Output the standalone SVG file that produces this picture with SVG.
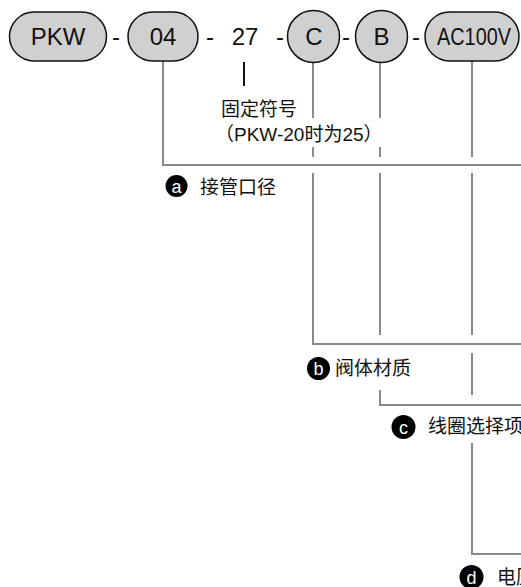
<svg xmlns="http://www.w3.org/2000/svg" width="521" height="587" viewBox="0 0 521 587">
<style>
.pill{fill:#d0d0d0;stroke:#111;stroke-width:1.5}
.code{font-family:"Liberation Sans",Arial,sans-serif;font-size:24px;fill:#111;text-anchor:middle}
.dash{font-family:"Liberation Sans",Arial,sans-serif;font-size:24px;fill:#111;text-anchor:middle}
.cn{font-family:"Liberation Sans","Noto Sans CJK SC",sans-serif;font-size:19px;fill:#111}
.lbl{fill:#000}
.lt{font-family:"Liberation Sans",Arial,sans-serif;font-size:18px;fill:#fff;text-anchor:middle}
.ln{fill:none;stroke:#8a8a8a;stroke-width:2}
</style>
<rect width="521" height="587" fill="#fff"/>
<g id="connectors">
  <polyline class="ln" points="163,61 163,165 521,165"/>
  <line x1="244" y1="62" x2="244" y2="86" stroke="#111" stroke-width="2"/>
  <polyline class="ln" points="313,62 313,118"/>
  <polyline class="ln" points="313,147 313,157"/>
  <polyline class="ln" points="313,173 313,344 521,344"/>
  <polyline class="ln" points="380,62 380,118"/>
  <polyline class="ln" points="380,147 380,157"/>
  <polyline class="ln" points="380,173 380,335"/>
  <polyline class="ln" points="380,390 380,405 521,405"/>
  <polyline class="ln" points="472,61 472,157"/>
  <polyline class="ln" points="472,173 472,335"/>
  <polyline class="ln" points="472,353 472,395"/>
  <polyline class="ln" points="472,443 472,554 521,554"/>
</g>
<g id="node-pkw">
  <rect class="pill" x="9.5" y="12" width="97" height="49" rx="24.5"/>
  <text class="code" x="58" y="45">PKW</text>
</g>
<text class="dash" x="116" y="45">-</text>
<g id="node-04">
  <rect class="pill" x="128" y="12" width="70" height="49" rx="24.5"/>
  <text class="code" x="163" y="45">04</text>
</g>
<text class="dash" x="210" y="45">-</text>
<g id="node-27">
  <text class="code" x="245" y="45">27</text>
  <text class="cn" x="221" y="116">固定符号</text>
  <text class="cn" x="215" y="141">（PKW-20时为25）</text>
</g>
<text class="dash" x="280" y="45">-</text>
<g id="node-c">
  <circle class="pill" cx="313.5" cy="36.5" r="26"/>
  <text class="code" x="314" y="45">C</text>
</g>
<text class="dash" x="346" y="45">-</text>
<g id="node-b">
  <circle class="pill" cx="381.5" cy="36.5" r="26"/>
  <text class="code" x="381.5" y="45">B</text>
</g>
<text class="dash" x="416" y="45">-</text>
<g id="node-ac100v">
  <rect class="pill" x="425" y="12" width="94" height="49" rx="24.5"/>
  <text class="code" x="437" y="45" style="text-anchor:start" textLength="74" lengthAdjust="spacingAndGlyphs">AC100V</text>
</g>
<g id="label-a">
  <circle class="lbl" cx="176.5" cy="186" r="11"/>
  <text class="lt" x="176.5" y="192.5">a</text>
  <text class="cn" x="200" y="194">接管口径</text>
</g>
<g id="label-b">
  <circle class="lbl" cx="318.5" cy="368.5" r="11.5"/>
  <text class="lt" x="318.5" y="375">b</text>
  <text class="cn" x="335" y="375">阀体材质</text>
</g>
<g id="label-c">
  <circle class="lbl" cx="403.5" cy="427" r="12"/>
  <text class="lt" x="403.5" y="433.5">c</text>
  <text class="cn" x="428" y="433">线圈选择项</text>
</g>
<g id="label-d">
  <circle class="lbl" cx="471.5" cy="577" r="12"/>
  <text class="lt" x="471.5" y="583.5">d</text>
  <text class="cn" x="497" y="584">电压</text>
</g>
</svg>
